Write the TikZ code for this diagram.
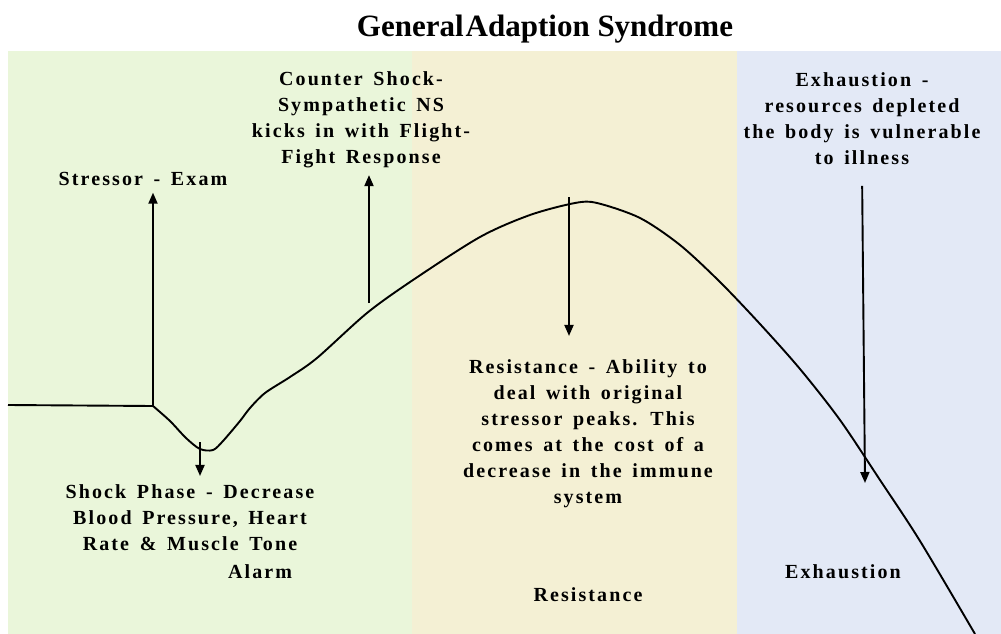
\documentclass[tikz,border=0pt]{standalone}
\usepackage{fontspec}
\setmainfont{Liberation Serif}
\newfontfamily\notefont[LetterSpace=10.5,WordSpace=1.5]{Liberation Serif}
\usetikzlibrary{arrows.meta}

\definecolor{alarmgreen}{HTML}{EAF6DA}
\definecolor{resisttan}{HTML}{F4F0D4}
\definecolor{exhaustblue}{HTML}{E3E9F6}

\tikzset{
  note/.style={font=\notefont\bfseries\fontsize{20}{26}\selectfont,align=center,inner sep=3pt},
  heading/.style={font=\bfseries\fontsize{31}{36}\selectfont,inner sep=0pt}
}

\begin{document}
\begin{tikzpicture}[x=1pt,y=-1pt,>={Triangle[length=11pt,width=9pt]},line width=1.9pt]
				\useasboundingbox (0,0) rectangle (1001,634);
				% stages
				\fill[alarmgreen] (8,51) rectangle (412,634);
				\fill[resisttan] (412,51) rectangle (737,634);
				\fill[exhaustblue] (737,51) rectangle (1001,634);
				
				\node[heading,anchor=base] (title) at (545,36.5) {General\hspace{2pt}Adaption Syndrome};
				
				% response curve
				\draw[line join=round] (8,405) -- plot[smooth,tension=0.5] coordinates
				{(153,406) (170,421) (186,438) (200,449) (213,450) (223,441) (240,421)
				 (250,408) (265,393) (290,377) (317,358) (367,313) (413,280) (480,237)
				 (530,215) (575,203) (597,203) (640,218) (680,245) (720,282) (760,324)
				 (800,369) (840,420) (880,480) (920,541) (975,634)};
				
				\coordinate (exam) at (153,406);
				\coordinate (counter) at (369,303);
				\coordinate (peak) at (569,197);
				\coordinate (dip) at (200,442);
				\coordinate (collapse) at (865,483);
				
				\node[note] (stressor) at (143,179) {Stressor - Exam};
				\node[note] (countershock) at (361,120) {Counter Shock-\\Sympathetic NS\\kicks in with Flight-\\Fight Response};
				\node[note] (resist) at (588,434) {Resistance - Ability to\\deal with original\\stressor peaks. This\\comes at the cost of a\\decrease in the immune\\system};
				\node[note] (shock) at (190,518) {Shock Phase - Decrease\\Blood Pressure, Heart\\Rate \& Muscle Tone};
				\node[note,anchor=east] (alarm) at (296,572) {Alarm};
				\node[note] (exhaust) at (862,119) {Exhaustion -\\resources depleted\\the body is vulnerable\\to illness};
				\node[note] (resistname) at (588,595) {Resistance};
				\node[note] (exhaustname) at (843,572) {Exhaustion};
				
				\draw[->,shorten >=3pt] (exam) -- (exam |- stressor.south);
				\draw[->,shorten >=3pt] (counter) -- (counter |- countershock.south);
				\draw[->,shorten >=20pt] (peak) -- (peak |- resist.north);
				\draw[->,shorten >=5pt] (dip) -- (dip |- shock.north);
				\draw[->,shorten <=17pt] (exhaust.south) -- (collapse);
\end{tikzpicture}
\end{document}
